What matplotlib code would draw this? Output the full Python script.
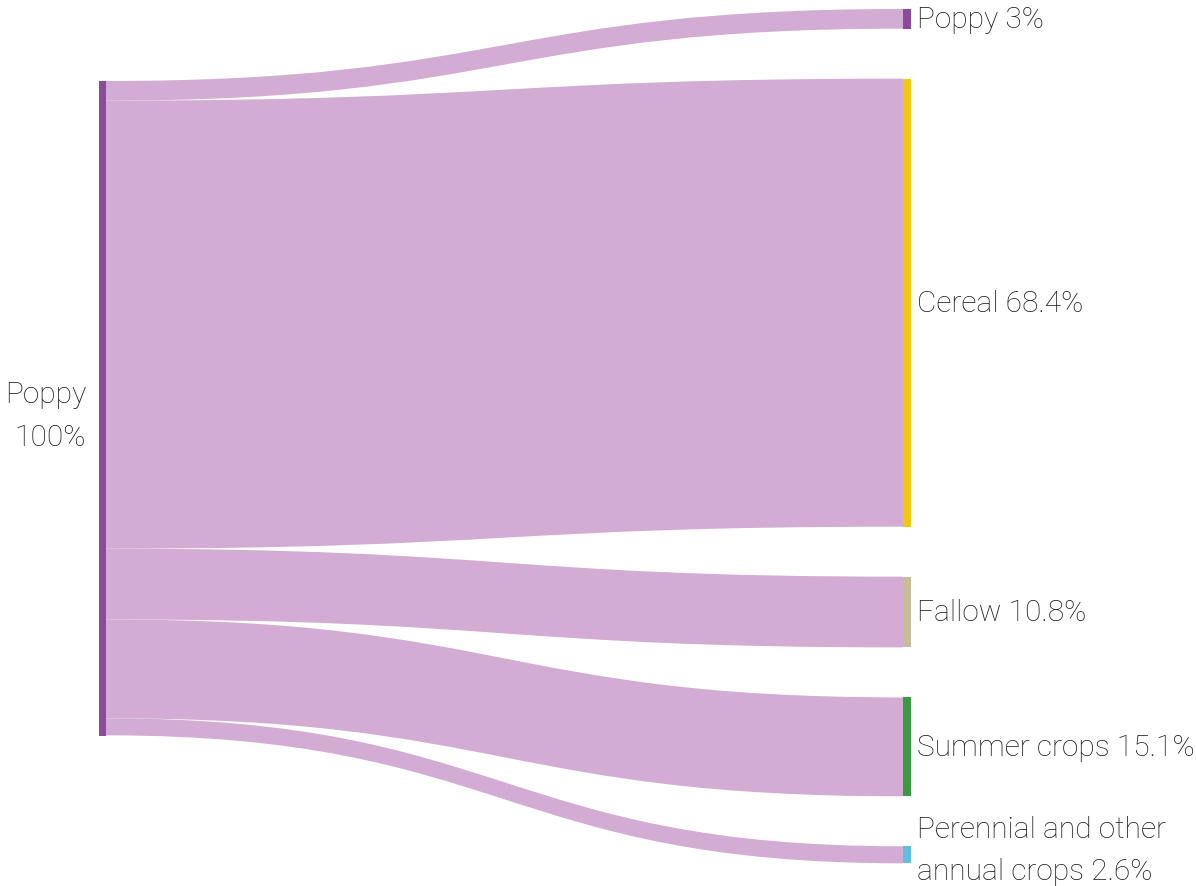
import matplotlib.pyplot as plt
from matplotlib.path import Path
from matplotlib.patches import PathPatch, Rectangle

plt.rcParams['font.family'] = ['Roboto', 'DejaVu Sans']

# 資料
source = 'Poppy'
source_value = 100
targets = ['Poppy', 'Cereal', 'Fallow', 'Summer crops', 'Perennial and other\nannual crops']
values = [3, 68.4, 10.8, 15.1, 2.6]
labels = ['Poppy 3%', 'Cereal 68.4%', 'Fallow 10.8%', 'Summer crops 15.1%',
          'Perennial and other\nannual crops 2.6%']
node_colors = ['#8e4b9d', '#f2c80f', '#c6bc98', '#3a9b3e', '#5bc0de']

link_color = '#d2acd2'
left_color = '#8e4b9d'
text_color = '#1a1a1a'

# 版面 (像素座標)
W, H = 1196, 887
scale = 6.55          # 每 1% 的像素高度
left_x0, left_x1 = 99, 106
right_x0, right_x1 = 903, 911
left_top = 82
right_top = 10
gap = 50
fs = 21.5

fig = plt.figure(figsize=(W / 100, H / 100), dpi=100)
ax = fig.add_axes([0, 0, 1, 1])
ax.set_xlim(0, W)
ax.set_ylim(H, 0)
ax.axis('off')

# 連線
ly = left_top
ry = right_top
for v, c, lab in zip(values, node_colors, labels):
    h = v * scale
    xm = (left_x1 + right_x0) / 2
    verts = [(left_x1, ly), (xm, ly), (xm, ry), (right_x0, ry),
             (right_x0, ry + h),
             (xm, ry + h), (xm, ly + h), (left_x1, ly + h),
             (left_x1, ly)]
    codes = [Path.MOVETO, Path.CURVE4, Path.CURVE4, Path.CURVE4,
             Path.LINETO,
             Path.CURVE4, Path.CURVE4, Path.CURVE4,
             Path.CLOSEPOLY]
    ax.add_patch(PathPatch(Path(verts, codes), facecolor=link_color, edgecolor='none'))
    # 右側節點
    ax.add_patch(Rectangle((right_x0, ry), right_x1 - right_x0, h, facecolor=c, edgecolor='none'))
    dy = -5 if '\n' in lab else 0
    ax.text(917, ry + h / 2 + dy, lab, ha='left', va='center', fontsize=fs,
            fontweight='light', color=text_color, linespacing=1.65)
    ly += h
    ry += h + gap

# 左側節點
lh = source_value * scale
ax.add_patch(Rectangle((left_x0, left_top), left_x1 - left_x0, lh, facecolor=left_color, edgecolor='none'))
ax.text(86, left_top + lh / 2 + 7, f'{source}\n{source_value}%', ha='right', va='center',
        fontsize=fs, fontweight='light', color=text_color, linespacing=1.65)

fig.savefig('out.png', dpi=100)
